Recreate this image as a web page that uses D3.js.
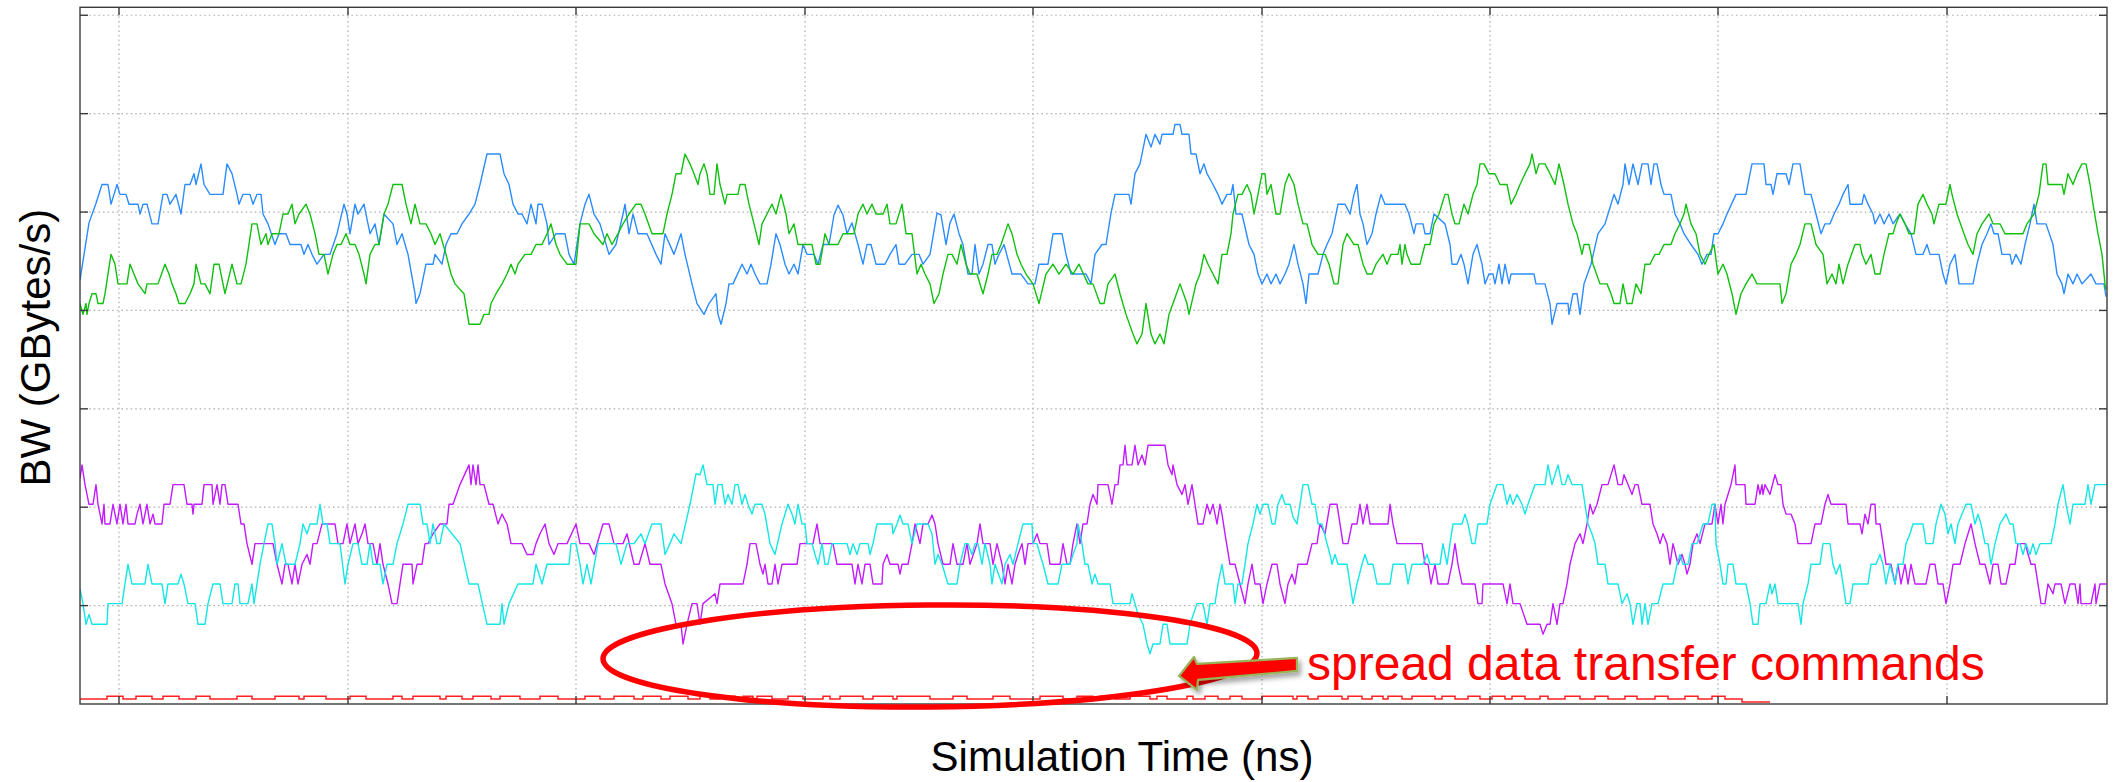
<html>
    <script src="https://d3js.org/d3.v7.min.js"></script>
    <style>
    body{
        margin:0;
        background:#fff;
    }
    svg text{
        font-family:"Liberation Sans", Arial, sans-serif;
    }
    </style>
    <body>
    <script>
        // values: [simulation time, BW]
        let timeDomain = [0, 2027];
        let bwDomain = [0, 7.081];
        let timeGrid = [39, 268, 496, 725, 953, 1182, 1410, 1638, 1867];
        let bwGrid = [1, 2, 3, 4, 5, 6, 7];

        let blueBW = [[0,4.31],[9,4.89],[16,5.09],[22,5.28],[28,5.28],[31,5.08],[34,5.18],[37,5.28],[40,5.18],[46,5.18],[49,5.08],[58,5.08],[60,4.98],[63,5.08],[67,5.08],[72,4.88],[78,4.88],[83,5.18],[87,5.18],[90,5.08],[96,5.18],[101,4.98],[105,5.28],[110,5.28],[114,5.39],[116,5.28],[121,5.49],[124,5.28],[130,5.18],[143,5.18],[147,5.49],[152,5.39],[157,5.18],[159,5.08],[163,5.18],[170,5.18],[173,5.08],[177,5.18],[181,5.18],[183,4.98],[188,4.88],[195,4.67],[199,4.78],[206,4.78],[210,4.67],[221,4.67],[224,4.57],[228,4.67],[232,4.57],[237,4.47],[244,4.57],[250,4.57],[257,4.78],[264,5.08],[267,4.98],[270,4.78],[275,5.08],[278,4.98],[284,5.08],[286,4.98],[290,4.78],[295,4.88],[299,4.67],[304,4.98],[313,4.88],[317,4.67],[322,4.78],[328,4.57],[335,4.17],[336,4.07],[340,4.17],[346,4.47],[353,4.47],[355,4.57],[362,4.47],[366,4.67],[371,4.78],[377,4.78],[382,4.88],[389,4.98],[395,5.08],[400,5.28],[407,5.59],[420,5.59],[424,5.39],[429,5.28],[433,5.08],[438,4.98],[442,4.98],[447,4.88],[451,5.08],[456,4.88],[458,5.08],[462,5.08],[467,4.88],[469,4.67],[476,4.78],[485,4.78],[489,4.57],[494,4.47],[500,4.88],[505,5.08],[509,5.18],[514,4.98],[520,4.88],[529,4.57],[536,4.67],[543,4.98],[545,5.08],[549,4.78],[553,4.98],[558,4.78],[567,4.78],[576,4.57],[581,4.47],[585,4.78],[594,4.57],[601,4.78],[605,4.57],[612,4.27],[617,4.07],[624,3.96],[629,4.07],[636,4.17],[638,3.96],[641,3.86],[646,4.07],[649,4.27],[653,4.27],[662,4.47],[667,4.37],[671,4.47],[675,4.37],[680,4.27],[687,4.27],[691,4.47],[696,4.78],[700,4.67],[705,4.47],[709,4.37],[714,4.47],[718,4.37],[723,4.67],[727,4.57],[734,4.57],[738,4.47],[743,4.67],[749,4.67],[754,4.97],[758,5.07],[763,4.97],[767,4.78],[772,4.89],[778,4.67],[783,4.47],[787,4.67],[791,4.67],[796,4.47],[805,4.47],[810,4.57],[816,4.67],[819,4.47],[825,4.47],[832,4.57],[839,4.57],[843,4.47],[850,4.57],[857,4.99],[861,4.97],[866,4.67],[870,4.89],[874,4.98],[879,4.78],[883,4.67],[888,4.37],[892,4.37],[895,4.67],[899,4.37],[903,4.47],[908,4.67],[912,4.67],[915,4.47],[919,4.57],[924,4.67],[932,4.37],[941,4.37],[948,4.27],[955,4.27],[959,4.47],[968,4.47],[973,4.78],[982,4.78],[986,4.57],[991,4.37],[1006,4.37],[1011,4.27],[1015,4.57],[1022,4.67],[1026,4.67],[1031,4.99],[1035,5.18],[1049,5.18],[1051,5.08],[1055,5.39],[1060,5.49],[1066,5.79],[1071,5.66],[1075,5.79],[1080,5.69],[1082,5.79],[1093,5.79],[1095,5.89],[1100,5.89],[1102,5.79],[1109,5.79],[1111,5.59],[1116,5.59],[1120,5.39],[1124,5.49],[1127,5.39],[1133,5.28],[1138,5.18],[1142,5.08],[1147,5.18],[1151,5.18],[1153,5.28],[1156,4.98],[1162,4.98],[1169,4.67],[1174,4.57],[1178,4.37],[1182,4.27],[1187,4.37],[1191,4.27],[1196,4.37],[1200,4.27],[1205,4.37],[1209,4.47],[1214,4.67],[1218,4.47],[1223,4.27],[1226,4.07],[1229,4.37],[1238,4.37],[1243,4.57],[1247,4.67],[1252,4.78],[1256,4.98],[1258,5.08],[1265,5.08],[1270,4.98],[1274,5.18],[1277,5.28],[1280,4.98],[1283,4.88],[1287,4.67],[1292,4.78],[1296,4.98],[1301,5.18],[1305,5.08],[1325,5.08],[1329,4.98],[1334,4.78],[1336,4.88],[1343,4.88],[1345,4.78],[1350,4.78],[1354,4.98],[1365,4.88],[1370,4.67],[1372,4.47],[1377,4.47],[1381,4.57],[1384,4.47],[1388,4.27],[1393,4.57],[1397,4.67],[1402,4.47],[1405,4.27],[1409,4.37],[1413,4.37],[1415,4.27],[1419,4.47],[1422,4.27],[1425,4.47],[1429,4.27],[1431,4.37],[1454,4.37],[1456,4.27],[1465,4.27],[1470,4.07],[1472,3.86],[1477,4.07],[1488,4.07],[1489,3.96],[1493,4.17],[1497,4.17],[1500,3.96],[1504,4.27],[1511,4.47],[1518,4.78],[1525,4.88],[1531,5.08],[1534,5.18],[1538,5.08],[1543,5.28],[1545,5.49],[1549,5.28],[1553,5.49],[1558,5.28],[1562,5.49],[1568,5.49],[1571,5.28],[1574,5.49],[1577,5.49],[1581,5.28],[1584,5.18],[1591,5.18],[1595,4.98],[1600,4.88],[1604,4.78],[1611,4.67],[1618,4.57],[1622,4.47],[1627,4.57],[1631,4.57],[1634,4.78],[1638,4.78],[1643,4.88],[1647,4.98],[1656,5.18],[1666,5.18],[1670,5.39],[1672,5.49],[1684,5.49],[1686,5.28],[1691,5.28],[1693,5.18],[1697,5.39],[1706,5.39],[1709,5.28],[1713,5.49],[1720,5.49],[1725,5.18],[1731,5.18],[1736,4.98],[1741,4.78],[1745,4.88],[1750,4.88],[1754,4.98],[1759,5.08],[1763,5.18],[1768,5.28],[1770,5.08],[1782,5.08],[1784,5.18],[1788,5.08],[1793,4.98],[1795,4.88],[1800,4.98],[1804,4.88],[1809,4.98],[1813,4.88],[1820,4.98],[1825,4.88],[1831,4.78],[1836,4.57],[1843,4.57],[1847,4.67],[1850,4.57],[1859,4.57],[1863,4.37],[1866,4.27],[1870,4.47],[1875,4.57],[1879,4.27],[1893,4.27],[1897,4.47],[1902,4.67],[1907,4.78],[1911,4.88],[1914,4.78],[1918,4.78],[1922,4.57],[1930,4.57],[1932,4.47],[1936,4.57],[1941,4.47],[1945,4.67],[1950,4.88],[1954,5.08],[1957,4.88],[1966,4.88],[1973,4.67],[1977,4.37],[1982,4.27],[1984,4.17],[1988,4.37],[1993,4.27],[1997,4.37],[2002,4.27],[2011,4.37],[2016,4.27],[2024,4.27],[2026,4.14]];

        let greenBW = [[0,4.07],[3,3.96],[6,4.07],[7,3.96],[9,4.07],[12,4.17],[16,4.17],[18,4.07],[23,4.07],[25,4.17],[31,4.57],[35,4.47],[38,4.27],[47,4.27],[50,4.47],[54,4.37],[58,4.27],[65,4.17],[67,4.27],[78,4.27],[85,4.47],[89,4.37],[92,4.27],[96,4.17],[99,4.07],[105,4.07],[110,4.17],[114,4.27],[116,4.47],[121,4.27],[125,4.27],[130,4.17],[134,4.47],[139,4.47],[143,4.27],[145,4.17],[152,4.47],[157,4.27],[161,4.27],[166,4.47],[172,4.88],[177,4.88],[181,4.67],[186,4.78],[188,4.67],[192,4.78],[199,4.78],[203,4.98],[208,4.98],[212,5.08],[215,4.88],[219,4.98],[226,5.08],[230,4.98],[235,4.78],[239,4.57],[244,4.57],[248,4.37],[253,4.57],[257,4.67],[261,4.67],[266,4.78],[270,4.67],[275,4.67],[279,4.57],[284,4.37],[286,4.27],[290,4.57],[295,4.67],[299,4.67],[304,4.98],[308,5.08],[313,5.28],[322,5.28],[326,5.08],[331,4.88],[335,5.08],[340,4.88],[346,4.88],[351,4.78],[355,4.67],[360,4.78],[366,4.57],[371,4.37],[375,4.27],[384,4.17],[389,3.86],[400,3.86],[404,3.96],[409,3.96],[411,4.07],[416,4.17],[422,4.27],[427,4.37],[431,4.47],[435,4.37],[438,4.47],[445,4.57],[451,4.57],[456,4.67],[462,4.67],[467,4.78],[471,4.88],[476,4.67],[480,4.57],[487,4.47],[496,4.47],[500,4.88],[509,4.88],[514,4.78],[523,4.67],[527,4.78],[532,4.67],[538,4.78],[543,4.88],[549,4.98],[556,5.08],[561,5.08],[565,4.98],[572,4.78],[583,4.78],[587,4.98],[592,5.18],[596,5.39],[601,5.39],[605,5.59],[610,5.49],[614,5.39],[618,5.28],[620,5.39],[624,5.49],[627,5.39],[630,5.18],[634,5.18],[637,5.49],[640,5.28],[645,5.08],[647,5.18],[658,5.18],[660,5.28],[665,5.28],[669,5.08],[674,4.88],[679,4.67],[682,4.88],[687,4.98],[692,5.08],[696,4.98],[701,5.18],[706,4.98],[709,4.78],[714,4.88],[718,4.67],[732,4.67],[736,4.47],[740,4.47],[745,4.78],[749,4.67],[758,4.67],[763,4.78],[774,4.78],[778,4.98],[783,5.08],[787,4.98],[792,5.08],[796,4.98],[803,4.98],[807,5.08],[810,4.88],[816,4.88],[822,5.08],[826,4.78],[832,4.78],[837,4.37],[841,4.47],[845,4.37],[850,4.27],[854,4.07],[859,4.17],[863,4.37],[868,4.57],[872,4.57],[877,4.47],[881,4.67],[886,4.47],[890,4.37],[897,4.37],[903,4.17],[908,4.37],[912,4.57],[917,4.57],[921,4.67],[928,4.88],[932,4.78],[937,4.57],[941,4.47],[946,4.37],[953,4.27],[959,4.07],[966,4.37],[973,4.47],[979,4.37],[986,4.47],[993,4.37],[999,4.47],[1008,4.27],[1013,4.27],[1020,4.07],[1024,4.07],[1028,4.27],[1035,4.37],[1040,4.17],[1046,3.96],[1053,3.76],[1057,3.66],[1062,3.76],[1066,4.07],[1071,3.76],[1075,3.66],[1080,3.76],[1084,3.66],[1089,3.96],[1093,4.07],[1100,4.27],[1107,4.07],[1109,3.96],[1116,4.27],[1120,4.37],[1124,4.57],[1128,4.47],[1133,4.37],[1138,4.27],[1142,4.57],[1147,4.57],[1151,4.78],[1153,4.98],[1158,5.18],[1162,5.18],[1167,5.28],[1171,5.18],[1174,4.98],[1178,5.18],[1182,5.39],[1185,5.39],[1187,5.18],[1191,5.28],[1196,4.98],[1200,4.98],[1205,5.28],[1209,5.39],[1214,5.28],[1218,5.08],[1223,4.88],[1227,4.88],[1232,4.67],[1238,4.57],[1245,4.57],[1249,4.47],[1254,4.27],[1258,4.27],[1263,4.67],[1267,4.78],[1274,4.67],[1278,4.67],[1283,4.47],[1287,4.37],[1292,4.37],[1296,4.47],[1303,4.57],[1307,4.47],[1311,4.57],[1318,4.57],[1320,4.67],[1322,4.47],[1325,4.67],[1327,4.57],[1331,4.47],[1340,4.47],[1345,4.67],[1350,4.67],[1354,4.88],[1359,4.98],[1365,5.18],[1368,5.18],[1372,4.98],[1375,4.88],[1379,4.88],[1384,5.08],[1388,4.98],[1393,5.18],[1397,5.28],[1400,5.49],[1404,5.49],[1409,5.39],[1415,5.39],[1420,5.28],[1427,5.28],[1431,5.08],[1436,5.18],[1440,5.28],[1445,5.39],[1450,5.49],[1452,5.59],[1456,5.39],[1459,5.49],[1465,5.49],[1470,5.39],[1475,5.28],[1479,5.49],[1484,5.28],[1488,5.08],[1493,4.88],[1497,4.78],[1502,4.57],[1504,4.67],[1509,4.67],[1513,4.47],[1520,4.27],[1527,4.27],[1531,4.17],[1534,4.07],[1540,4.07],[1543,4.27],[1547,4.07],[1552,4.07],[1556,4.27],[1561,4.17],[1565,4.47],[1570,4.47],[1575,4.57],[1579,4.57],[1584,4.67],[1591,4.67],[1595,4.78],[1600,4.88],[1604,4.98],[1606,5.08],[1611,4.88],[1616,4.78],[1620,4.57],[1625,4.47],[1629,4.57],[1634,4.67],[1638,4.37],[1643,4.47],[1647,4.37],[1652,4.17],[1656,3.96],[1661,4.17],[1666,4.27],[1672,4.37],[1677,4.27],[1700,4.27],[1702,4.07],[1706,4.17],[1711,4.47],[1716,4.57],[1720,4.67],[1725,4.88],[1731,4.88],[1736,4.67],[1743,4.57],[1747,4.27],[1752,4.37],[1756,4.27],[1759,4.47],[1763,4.27],[1768,4.47],[1775,4.67],[1780,4.67],[1782,4.57],[1786,4.47],[1791,4.57],[1795,4.37],[1800,4.37],[1804,4.57],[1809,4.78],[1813,4.78],[1816,4.88],[1820,4.98],[1825,4.88],[1829,4.78],[1834,4.78],[1838,5.08],[1843,5.18],[1847,5.08],[1852,4.98],[1854,4.88],[1859,5.08],[1866,5.08],[1870,5.28],[1872,5.18],[1877,4.98],[1884,4.78],[1888,4.67],[1893,4.57],[1897,4.78],[1902,4.88],[1909,4.98],[1913,4.88],[1920,4.88],[1925,4.78],[1943,4.78],[1947,4.88],[1954,4.98],[1959,5.18],[1963,5.49],[1966,5.49],[1968,5.28],[1982,5.28],[1984,5.18],[1988,5.39],[1993,5.28],[1997,5.39],[2002,5.49],[2006,5.49],[2010,5.28],[2013,5.08],[2018,4.78],[2022,4.57],[2025,4.27],[2026,4.21]];

        let purpleBW = [[0,2.29],[2,2.43],[5,2.23],[9,2.03],[13,2.03],[16,2.23],[18,2.03],[22,1.83],[24,2.03],[25,1.83],[30,1.83],[33,2.03],[37,1.83],[40,2.03],[43,1.83],[46,2.03],[48,1.83],[55,1.83],[57,1.93],[60,2.03],[63,1.83],[67,2.03],[70,1.83],[73,1.93],[75,1.83],[82,1.83],[84,2.03],[90,2.03],[93,2.23],[104,2.23],[107,2.03],[112,2.03],[113,1.93],[114,2.03],[122,2.03],[124,2.23],[132,2.23],[133,2.03],[137,2.23],[140,2.03],[142,2.23],[145,2.23],[148,2.03],[158,2.03],[161,1.83],[164,1.83],[167,1.63],[172,1.42],[175,1.63],[193,1.63],[197,1.42],[202,1.22],[205,1.42],[208,1.42],[212,1.22],[215,1.42],[218,1.22],[222,1.42],[227,1.52],[230,1.42],[233,1.63],[237,1.63],[242,1.83],[255,1.83],[258,1.63],[263,1.63],[267,1.83],[270,1.63],[275,1.83],[278,1.63],[282,1.73],[285,1.83],[288,1.63],[293,1.63],[297,1.42],[300,1.63],[303,1.42],[308,1.22],[312,1.02],[317,1.02],[320,1.22],[323,1.42],[332,1.42],[333,1.22],[337,1.42],[342,1.42],[345,1.63],[348,1.63],[353,1.73],[360,1.83],[367,1.83],[369,2.03],[373,2.03],[380,2.23],[389,2.43],[391,2.23],[393,2.43],[396,2.23],[398,2.43],[400,2.23],[404,2.23],[409,2.03],[413,2.03],[418,1.83],[422,1.93],[427,1.83],[431,1.63],[442,1.63],[447,1.52],[453,1.52],[456,1.63],[460,1.73],[465,1.83],[469,1.63],[474,1.52],[478,1.63],[487,1.63],[496,1.83],[500,1.63],[509,1.63],[514,1.52],[523,1.83],[529,1.83],[534,1.63],[543,1.63],[547,1.73],[554,1.42],[559,1.42],[565,1.63],[570,1.42],[581,1.42],[585,1.22],[592,1.02],[596,0.81],[601,0.81],[603,0.61],[607,0.81],[612,1.02],[617,1.02],[620,0.81],[623,1.02],[635,1.12],[637,1.02],[640,1.22],[663,1.22],[667,1.42],[670,1.63],[676,1.63],[680,1.42],[683,1.32],[685,1.42],[688,1.22],[692,1.22],[695,1.42],[698,1.22],[702,1.42],[717,1.42],[720,1.63],[733,1.63],[737,1.83],[740,1.63],[753,1.63],[757,1.42],[772,1.42],[775,1.22],[778,1.42],[782,1.22],[785,1.42],[790,1.42],[793,1.22],[802,1.22],[803,1.42],[807,1.52],[810,1.42],[818,1.42],[820,1.32],[822,1.42],[828,1.42],[832,1.63],[835,1.83],[840,1.63],[843,1.83],[848,1.83],[852,1.92],[855,1.83],[858,1.63],[863,1.42],[870,1.42],[873,1.63],[877,1.42],[883,1.42],[887,1.63],[890,1.42],[897,1.63],[900,1.83],[903,1.63],[910,1.63],[913,1.42],[917,1.63],[922,1.42],[925,1.22],[928,1.42],[932,1.22],[935,1.42],[938,1.52],[942,1.63],[945,1.42],[948,1.63],[953,1.63],[957,1.73],[960,1.63],[967,1.63],[970,1.42],[980,1.42],[983,1.63],[987,1.42],[990,1.42],[993,1.63],[997,1.83],[1000,1.63],[1003,1.83],[1007,1.83],[1010,2.03],[1013,2.13],[1017,2.03],[1018,2.23],[1028,2.23],[1032,2.03],[1035,2.23],[1038,2.23],[1040,2.43],[1043,2.43],[1045,2.63],[1047,2.43],[1052,2.43],[1055,2.63],[1058,2.43],[1062,2.53],[1065,2.43],[1068,2.63],[1085,2.63],[1088,2.43],[1092,2.33],[1093,2.43],[1097,2.23],[1102,2.13],[1105,2.23],[1108,2.03],[1112,2.23],[1115,2.03],[1118,1.83],[1123,1.83],[1127,2.03],[1130,1.93],[1133,2.03],[1137,1.83],[1140,2.03],[1142,1.93],[1145,1.73],[1150,1.42],[1155,1.42],[1160,1.22],[1165,1.02],[1168,1.22],[1172,1.42],[1175,1.22],[1180,1.22],[1183,1.02],[1187,1.22],[1192,1.42],[1197,1.42],[1200,1.22],[1205,1.02],[1208,1.22],[1212,1.32],[1215,1.22],[1218,1.42],[1227,1.42],[1232,1.63],[1237,1.63],[1240,1.83],[1245,1.73],[1250,2.03],[1257,2.03],[1260,1.83],[1263,1.63],[1268,1.63],[1272,1.83],[1277,1.83],[1280,2.03],[1283,1.83],[1287,2.03],[1290,1.83],[1308,1.83],[1310,2.03],[1313,1.83],[1317,1.63],[1342,1.63],[1345,1.42],[1348,1.42],[1351,1.22],[1355,1.42],[1358,1.22],[1368,1.22],[1372,1.42],[1375,1.63],[1378,1.42],[1382,1.22],[1395,1.22],[1398,1.02],[1402,1.02],[1403,1.22],[1423,1.22],[1427,1.02],[1430,1.22],[1433,1.02],[1440,1.02],[1447,0.81],[1460,0.81],[1463,0.71],[1467,0.81],[1470,0.81],[1473,1.02],[1477,0.81],[1480,1.02],[1483,1.02],[1487,1.22],[1490,1.42],[1495,1.63],[1500,1.73],[1503,1.63],[1507,1.83],[1510,2.03],[1513,1.93],[1517,2.03],[1522,2.23],[1528,2.23],[1534,2.43],[1538,2.23],[1542,2.23],[1544,2.33],[1548,2.23],[1552,2.13],[1555,2.23],[1558,2.23],[1562,2.03],[1570,2.03],[1573,1.83],[1577,1.73],[1580,1.63],[1583,1.73],[1587,1.63],[1590,1.42],[1593,1.63],[1598,1.42],[1602,1.52],[1605,1.42],[1607,1.32],[1610,1.42],[1613,1.63],[1617,1.73],[1620,1.63],[1625,1.83],[1632,1.83],[1635,2.03],[1638,1.83],[1641,2.03],[1643,1.83],[1645,2.03],[1648,2.13],[1651,2.23],[1655,2.43],[1656,2.23],[1665,2.23],[1666,2.03],[1675,2.03],[1678,2.23],[1680,2.13],[1682,2.23],[1683,2.13],[1685,2.23],[1690,2.13],[1695,2.33],[1698,2.23],[1701,2.23],[1703,2.03],[1706,1.93],[1711,1.93],[1715,1.83],[1718,1.63],[1731,1.63],[1735,1.83],[1741,1.83],[1745,2.03],[1748,2.13],[1751,2.03],[1766,2.03],[1768,1.83],[1780,1.83],[1782,1.73],[1785,1.93],[1788,1.83],[1791,2.03],[1795,2.03],[1796,1.83],[1800,1.83],[1803,1.63],[1806,1.42],[1811,1.42],[1815,1.22],[1818,1.42],[1821,1.22],[1825,1.42],[1828,1.22],[1831,1.42],[1835,1.22],[1846,1.22],[1850,1.42],[1855,1.42],[1858,1.22],[1863,1.22],[1866,1.02],[1870,1.22],[1873,1.42],[1880,1.42],[1885,1.63],[1888,1.73],[1891,1.83],[1895,1.63],[1900,1.42],[1905,1.42],[1910,1.22],[1913,1.42],[1918,1.42],[1921,1.22],[1926,1.22],[1930,1.42],[1935,1.42],[1938,1.63],[1945,1.63],[1951,1.42],[1955,1.42],[1958,1.22],[1961,1.02],[1965,1.02],[1968,1.22],[1973,1.12],[1975,1.22],[1981,1.22],[1985,1.02],[1990,1.22],[1995,1.22],[1998,1.02],[2000,1.22],[2001,1.02],[2011,1.02],[2015,1.22],[2016,1.02],[2020,1.22],[2026,1.22]];

        let cyanBW = [[0,1.17],[3,1.02],[6,0.81],[9,0.91],[12,0.81],[27,0.81],[28,1.02],[42,1.02],[45,1.22],[48,1.42],[52,1.22],[65,1.22],[68,1.42],[72,1.22],[82,1.22],[85,1.02],[88,1.22],[98,1.22],[101,1.32],[104,1.22],[108,1.02],[115,1.02],[118,0.81],[125,0.81],[128,1.02],[133,1.22],[140,1.22],[143,1.02],[152,1.02],[155,1.22],[158,1.22],[160,1.02],[168,1.02],[172,1.22],[174,1.02],[177,1.22],[180,1.42],[184,1.63],[188,1.83],[192,1.83],[195,1.63],[197,1.42],[202,1.63],[206,1.42],[215,1.42],[220,1.63],[223,1.83],[227,1.73],[230,1.83],[237,1.83],[240,2.03],[243,1.83],[247,1.83],[250,1.63],[260,1.63],[265,1.22],[268,1.42],[273,1.63],[278,1.63],[282,1.42],[287,1.42],[290,1.63],[293,1.42],[300,1.42],[303,1.22],[307,1.42],[313,1.42],[317,1.63],[323,1.83],[328,2.03],[340,2.03],[343,1.83],[347,1.83],[350,1.63],[353,1.83],[357,1.63],[360,1.63],[364,1.83],[380,1.63],[389,1.22],[398,1.22],[407,0.81],[420,0.81],[422,1.02],[424,0.81],[429,1.02],[438,1.22],[453,1.22],[456,1.42],[462,1.22],[467,1.42],[489,1.42],[491,1.63],[496,1.63],[500,1.42],[503,1.22],[507,1.42],[511,1.22],[518,1.63],[536,1.63],[541,1.42],[547,1.63],[554,1.63],[561,1.73],[565,1.63],[572,1.83],[581,1.83],[585,1.52],[590,1.63],[594,1.73],[601,1.63],[610,2.03],[616,2.34],[620,2.33],[623,2.43],[627,2.23],[633,2.23],[635,2.03],[638,2.23],[642,2.23],[645,2.03],[648,2.13],[652,2.03],[655,2.23],[658,2.23],[662,2.03],[665,2.13],[668,2.03],[672,1.93],[675,2.03],[682,2.03],[685,1.93],[690,1.63],[695,1.52],[702,1.83],[708,2.03],[712,1.93],[715,1.83],[718,2.03],[722,1.83],[725,1.83],[727,1.63],[732,1.63],[735,1.52],[738,1.42],[742,1.63],[745,1.42],[748,1.42],[752,1.63],[767,1.63],[770,1.52],[773,1.63],[777,1.52],[780,1.63],[788,1.63],[790,1.52],[793,1.63],[797,1.83],[812,1.83],[813,1.73],[817,1.83],[820,1.92],[823,1.83],[828,1.83],[832,1.63],[837,1.83],[848,1.83],[852,1.73],[855,1.42],[858,1.52],[862,1.42],[868,1.22],[877,1.22],[880,1.42],[885,1.63],[888,1.63],[892,1.52],[895,1.63],[898,1.63],[902,1.42],[905,1.63],[910,1.42],[912,1.22],[915,1.42],[922,1.22],[925,1.42],[930,1.52],[933,1.42],[938,1.63],[943,1.83],[952,1.83],[953,1.63],[957,1.63],[960,1.52],[963,1.42],[968,1.22],[978,1.22],[982,1.42],[990,1.42],[993,1.52],[997,1.63],[998,1.83],[1002,1.63],[1005,1.42],[1008,1.42],[1012,1.22],[1015,1.32],[1018,1.22],[1030,1.22],[1033,1.02],[1050,1.02],[1052,1.12],[1055,1.02],[1058,0.91],[1063,0.81],[1067,0.61],[1070,0.51],[1073,0.61],[1080,0.61],[1083,0.81],[1087,0.81],[1090,0.61],[1107,0.61],[1110,0.81],[1117,1.02],[1123,1.02],[1127,0.81],[1130,1.02],[1135,1.02],[1138,1.22],[1142,1.42],[1145,1.22],[1153,1.22],[1155,1.02],[1158,1.22],[1162,1.22],[1165,1.42],[1168,1.63],[1173,1.83],[1177,2.03],[1180,1.93],[1183,2.03],[1188,2.03],[1192,1.83],[1195,1.83],[1198,2.03],[1202,2.13],[1205,2.03],[1210,2.03],[1213,1.90],[1217,1.83],[1220,2.03],[1223,2.23],[1228,2.23],[1232,2.03],[1235,2.03],[1238,1.83],[1242,1.83],[1247,1.63],[1250,1.52],[1252,1.42],[1255,1.52],[1258,1.42],[1267,1.42],[1270,1.22],[1273,1.02],[1277,1.22],[1282,1.42],[1285,1.52],[1288,1.42],[1293,1.42],[1297,1.22],[1310,1.22],[1313,1.42],[1325,1.42],[1328,1.22],[1332,1.42],[1343,1.42],[1347,1.52],[1350,1.42],[1360,1.42],[1363,1.63],[1367,1.42],[1370,1.63],[1373,1.83],[1382,1.83],[1385,1.93],[1388,1.83],[1392,1.63],[1395,1.63],[1398,1.83],[1407,1.83],[1410,2.03],[1417,2.23],[1423,2.23],[1427,2.03],[1430,2.13],[1433,2.03],[1437,2.13],[1442,2.03],[1445,1.93],[1448,2.03],[1455,2.23],[1465,2.23],[1468,2.43],[1472,2.23],[1475,2.33],[1478,2.43],[1482,2.23],[1485,2.23],[1488,2.33],[1492,2.23],[1502,2.23],[1505,2.03],[1508,1.83],[1512,1.73],[1515,1.63],[1518,1.42],[1525,1.42],[1528,1.22],[1538,1.22],[1542,1.02],[1547,1.12],[1550,1.02],[1553,0.81],[1557,1.02],[1560,1.02],[1562,0.81],[1565,1.02],[1568,0.81],[1572,1.02],[1578,1.02],[1583,1.22],[1593,1.22],[1597,1.42],[1600,1.52],[1603,1.42],[1608,1.42],[1612,1.63],[1617,1.63],[1623,1.83],[1628,1.83],[1632,2.03],[1635,2.03],[1636,1.63],[1640,1.42],[1643,1.22],[1646,1.22],[1648,1.42],[1653,1.42],[1656,1.22],[1666,1.22],[1670,1.02],[1673,0.81],[1678,0.81],[1680,1.02],[1686,1.02],[1690,1.22],[1692,1.12],[1695,1.22],[1698,1.02],[1718,1.02],[1721,0.81],[1723,1.02],[1728,1.22],[1731,1.42],[1740,1.42],[1743,1.63],[1750,1.63],[1753,1.42],[1756,1.32],[1760,1.42],[1763,1.22],[1766,1.02],[1770,1.02],[1773,1.22],[1788,1.22],[1791,1.42],[1796,1.42],[1800,1.52],[1803,1.42],[1806,1.22],[1810,1.42],[1815,1.22],[1818,1.42],[1823,1.42],[1826,1.63],[1830,1.73],[1833,1.83],[1843,1.83],[1846,1.63],[1853,1.63],[1856,1.83],[1861,2.03],[1865,1.93],[1868,1.73],[1871,1.83],[1875,1.63],[1878,1.83],[1886,2.03],[1891,2.03],[1895,1.83],[1898,1.93],[1901,1.83],[1905,1.63],[1908,1.63],[1911,1.42],[1915,1.63],[1920,1.83],[1926,1.93],[1930,1.83],[1933,1.83],[1936,1.63],[1940,1.63],[1943,1.52],[1946,1.63],[1950,1.52],[1953,1.63],[1956,1.52],[1960,1.63],[1971,1.63],[1975,1.83],[1978,2.03],[1983,2.23],[1986,2.03],[1990,1.83],[1993,2.03],[2005,2.03],[2008,2.23],[2011,2.03],[2015,2.23],[2026,2.23]];

        let redBW = [[0,0.05],[27,0.08],[43,0.05],[56,0.08],[72,0.05],[83,0.08],[99,0.05],[116,0.08],[130,0.05],[157,0.08],[172,0.05],[195,0.08],[219,0.05],[224,0.08],[246,0.05],[270,0.08],[286,0.05],[313,0.08],[322,0.05],[333,0.08],[360,0.05],[366,0.08],[382,0.05],[393,0.08],[411,0.05],[420,0.08],[440,0.05],[460,0.08],[478,0.05],[505,0.08],[520,0.05],[534,0.08],[554,0.05],[563,0.08],[581,0.05],[590,0.08],[608,0.05],[620,0.08],[630,0.05],[640,0.08],[655,0.05],[663,0.08],[673,0.05],[677,0.08],[692,0.05],[708,0.08],[723,0.05],[743,0.08],[750,0.05],[760,0.08],[783,0.05],[793,0.08],[813,0.05],[817,0.08],[850,0.05],[873,0.08],[887,0.05],[913,0.08],[930,0.05],[960,0.08],[983,0.05],[997,0.08],[1013,0.05],[1020,0.08],[1035,0.05],[1050,0.08],[1070,0.05],[1077,0.08],[1087,0.05],[1107,0.08],[1113,0.05],[1125,0.08],[1138,0.05],[1150,0.08],[1162,0.05],[1182,0.08],[1213,0.05],[1217,0.08],[1228,0.05],[1238,0.08],[1262,0.05],[1268,0.08],[1282,0.05],[1292,0.08],[1303,0.05],[1308,0.08],[1322,0.05],[1332,0.08],[1355,0.05],[1362,0.08],[1375,0.05],[1388,0.08],[1400,0.05],[1412,0.08],[1425,0.05],[1432,0.08],[1445,0.05],[1460,0.08],[1468,0.05],[1485,0.08],[1500,0.05],[1515,0.08],[1528,0.05],[1545,0.08],[1557,0.05],[1575,0.08],[1588,0.05],[1605,0.08],[1618,0.05],[1632,0.08],[1645,0.05],[1662,0.02],[1690,0.02]];

        // annotation, placed in data coordinates
        let noteText = "spread data transfer commands";
        let notePos = [1227, 0.244];
        let ringPos = [850, 0.488];
        let ringRadius = [327, 0.518];
        let arrowTip = [1099, 0.285];

        let width = 2113;
        let height = 782;
        let margin = {top: 7.3, right: 6, bottom: 78, left: 80};

        let canvas = d3.select("body")
            .append("svg")
            .attr("width", width)
            .attr("height", height);

        let x = d3.scaleLinear()
            .domain(timeDomain)
            .range([margin.left, width - margin.right]);
        let y = d3.scaleLinear()
            .domain(bwDomain)
            .range([height - margin.bottom, margin.top]);

        let x0 = x.range()[0], x1 = x.range()[1];
        let y0 = y.range()[0], y1 = y.range()[1];

        canvas.append("defs").append("clipPath").attr("id", "plotArea")
            .append("rect")
            .attr("x", x0).attr("y", y1)
            .attr("width", x1 - x0).attr("height", y0 - y1);

        let shadow = canvas.select("defs").append("filter").attr("id", "shadow")
            .attr("x", "-20%").attr("y", "-50%").attr("width", "150%").attr("height", "250%");
        shadow.append("feDropShadow")
            .attr("dx", 3).attr("dy", 4).attr("stdDeviation", 2.5)
            .attr("flood-color", "#000").attr("flood-opacity", 0.35);

        // dotted grid
        let grid = canvas.append("g");
        grid.selectAll(".vgrid").data(timeGrid).enter().append("line")
            .attr("x1", d => x(d)).attr("x2", d => x(d))
            .attr("y1", y1).attr("y2", y0);
        grid.selectAll(".hgrid").data(bwGrid).enter().append("line")
            .attr("x1", x0).attr("x2", x1)
            .attr("y1", d => y(d)).attr("y2", d => y(d));
        grid.selectAll("line")
            .attr("stroke", "#b0b0b0")
            .attr("stroke-width", 1.2)
            .attr("stroke-dasharray", "1.6,3");

        // series
        let line = d3.line().x(d => x(d[0])).y(d => y(d[1]));
        let series = [
            {values: blueBW, color: "#2a8cff"},
            {values: greenBW, color: "#10c010"},
            {values: purpleBW, color: "#c21bff"},
            {values: cyanBW, color: "#14e6e6"}
        ];
        let lineLayer = canvas.append("g").attr("clip-path", "url(#plotArea)");
        series.forEach(function(s){
            lineLayer.append("path")
                .attr("d", line(s.values))
                .attr("fill", "none")
                .attr("stroke", s.color)
                .attr("stroke-width", 1.4)
                .attr("stroke-linejoin", "round");
        });
        lineLayer.append("path")
            .attr("d", line.curve(d3.curveStepAfter)(redBW))
            .attr("fill", "none")
            .attr("stroke", "#ff2020")
            .attr("stroke-width", 1.5);

        // frame and inward ticks
        let frame = canvas.append("g").attr("stroke", "#3c3c3c");
        frame.append("rect")
            .attr("x", x0).attr("y", y1)
            .attr("width", x1 - x0).attr("height", y0 - y1)
            .attr("fill", "none")
            .attr("stroke-width", 1.4);
        let tickLen = 8;
        frame.selectAll(".lt").data(bwGrid).enter().append("line")
            .attr("x1", x0).attr("x2", x0 + tickLen)
            .attr("y1", d => y(d)).attr("y2", d => y(d));
        frame.selectAll(".rt").data(bwGrid).enter().append("line")
            .attr("x1", x1).attr("x2", x1 - tickLen)
            .attr("y1", d => y(d)).attr("y2", d => y(d));
        frame.selectAll(".tt").data(timeGrid).enter().append("line")
            .attr("x1", d => x(d)).attr("x2", d => x(d))
            .attr("y1", y1).attr("y2", y1 + tickLen);
        frame.selectAll(".bt").data(timeGrid).enter().append("line")
            .attr("x1", d => x(d)).attr("x2", d => x(d))
            .attr("y1", y0).attr("y2", y0 - tickLen);
        frame.selectAll("line").attr("stroke-width", 1.4);

        // axis titles
        canvas.append("text")
            .attr("transform", `translate(50, ${(y0 + y1) / 2 - 8}) rotate(-90)`)
            .attr("text-anchor", "middle")
            .attr("font-size", 42)
            .attr("fill", "#000")
            .text("BW (GBytes/s)");
        canvas.append("text")
            .attr("x", 1122)
            .attr("y", 771)
            .attr("text-anchor", "middle")
            .attr("font-size", 42)
            .attr("fill", "#000")
            .text("Simulation Time (ns)");

        // annotation: ellipse, arrow, label
        canvas.append("ellipse")
            .attr("cx", x(ringPos[0]))
            .attr("cy", y(ringPos[1]))
            .attr("rx", x(ringRadius[0]) - x(0))
            .attr("ry", y(0) - y(ringRadius[1]))
            .attr("transform", `rotate(-0.5, ${x(ringPos[0])}, ${y(ringPos[1])})`)
            .attr("fill", "none")
            .attr("stroke", "#ff0000")
            .attr("stroke-width", 5.5);

        let tx = x(arrowTip[0]), ty = y(arrowTip[1]);
        let arrowShape = [[0,0],[15,-19],[18,-12],[118,-18],[118,-5],[19,4],[18,14]];
        canvas.append("polygon")
            .attr("points", arrowShape.map(p => (tx + p[0]) + "," + (ty + p[1])).join(" "))
            .attr("fill", "#ff0000")
            .attr("stroke", "#98b35a")
            .attr("stroke-width", 2.2)
            .attr("stroke-linejoin", "round")
            .attr("filter", "url(#shadow)");

        canvas.append("text")
            .attr("x", x(notePos[0]))
            .attr("y", y(notePos[1]))
            .attr("font-size", 48)
            .attr("fill", "#ff0000")
            .text(noteText);
    </script>
    </body>
</html>
